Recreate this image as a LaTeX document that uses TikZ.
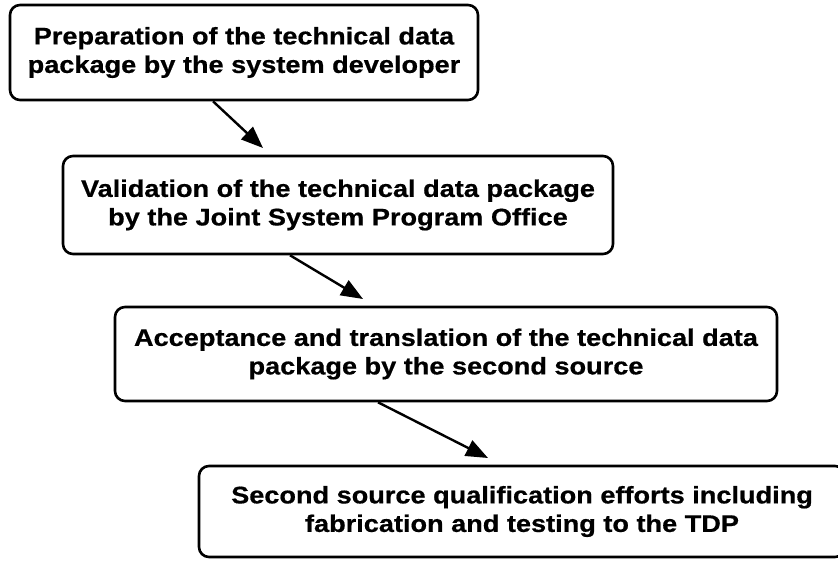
\documentclass[tikz,border=0pt]{standalone}
\usepackage{fontspec}
\setmainfont{Liberation Sans}[BoldFeatures={FakeStretch=1.13,FakeBold=0.6}]
\usetikzlibrary{arrows.meta}

\tikzset{
  stagebox/.style={draw=black, line width=2.6pt, rounded corners=10pt,
    align=center, inner sep=0pt,
    font=\bfseries\fontsize{24}{28.5}\selectfont},
  flowarrow/.style={line width=2.4pt,
    -{Triangle[length=22pt,width=17pt]}}
}

\begin{document}
\begin{tikzpicture}[x=1pt,y=-1pt]
  \useasboundingbox (0,0) rectangle (838,561);
  \clip (0,0) rectangle (838,561);

  % process stages, stepping down to the right
  \node[stagebox, minimum width=468pt, minimum height=95pt] (b1) at (244,52.5)
    {Preparation of the technical data\\package by the system developer};
  \node[stagebox, minimum width=550pt, minimum height=98pt] (b2) at (338,205)
    {Validation of the technical data package\\by the Joint System Program Office};
  \node[stagebox, minimum width=662pt, minimum height=94pt] (b3) at (446,354)
    {Acceptance and translation of the technical data\\package by the second source};
  \node[stagebox, minimum width=646pt, minimum height=91pt] (b4) at (522,511.5)
    {Second source qualification efforts including\\fabrication and testing to the TDP};

  % arrow tips, just above the next stage
  \coordinate (t1) at (263,148);
  \coordinate (t2) at (363,299);
  \coordinate (t3) at (488,458);

  \draw[flowarrow] ([xshift=-31pt]b1.south) -- (t1);
  \draw[flowarrow] ([xshift=-48pt]b2.south) -- (t2);
  \draw[flowarrow] ([xshift=-68pt]b3.south) -- (t3);
\end{tikzpicture}
\end{document}
